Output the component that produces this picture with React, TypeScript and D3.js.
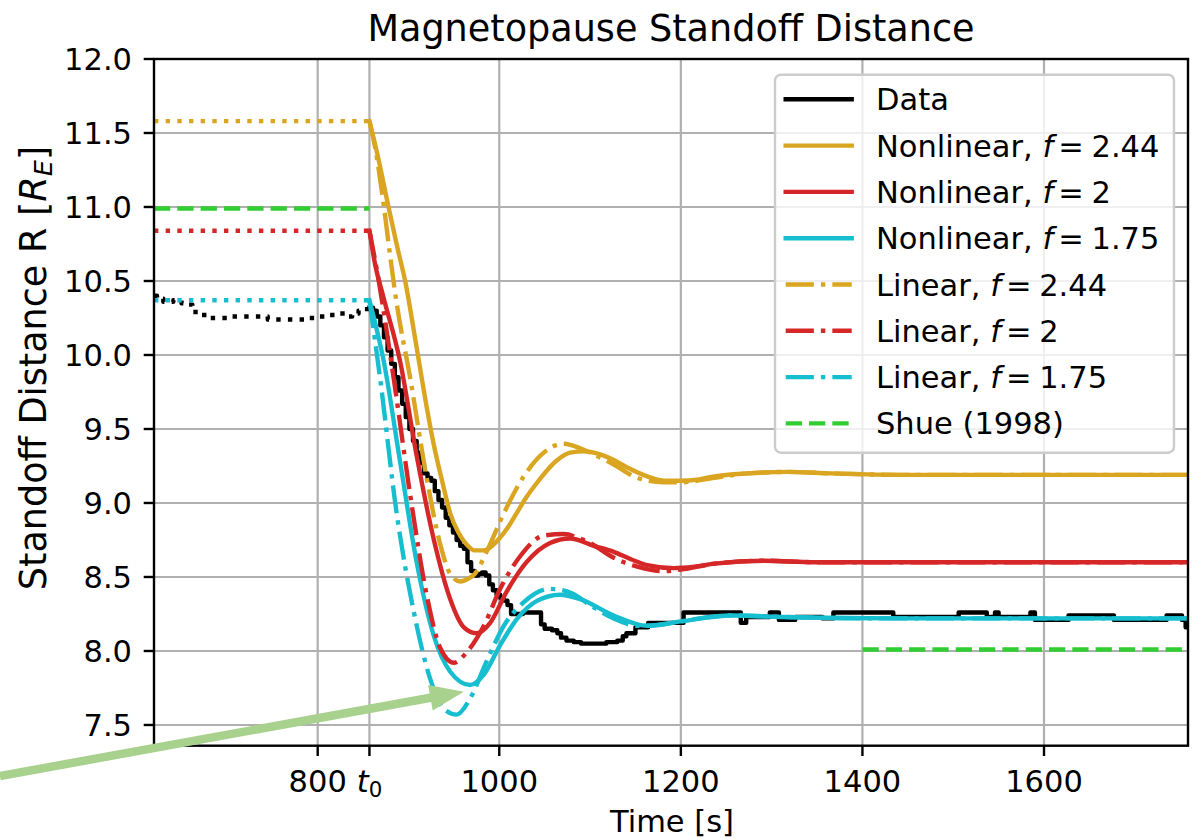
import React from 'react';
import * as d3 from 'd3';

const W = 1194;
const H = 839;
const plot = { left: 154, right: 1188, top: 59, bottom: 745.7 };

const xDomain: [number, number] = [619.7, 1758.6];
const yDomain: [number, number] = [7.36, 12.0];
const T0 = 857;
const xTicks = [800, T0, 1000, 1200, 1400, 1600];
const yTicks = [7.5, 8.0, 8.5, 9.0, 9.5, 10.0, 10.5, 11.0, 11.5, 12.0];

const title = 'Magnetopause Standoff Distance';

// Observed data before t0 (dotted) and after (solid)
const dataBefore: [number, number][] = [
  [620, 10.4], [623, 10.38], [630, 10.36], [641, 10.37], [650, 10.35], [656, 10.34], [662, 10.29],
  [672, 10.27], [682, 10.25], [700, 10.26], [728, 10.26], [745, 10.24], [768, 10.24], [786, 10.25],
  [800, 10.26], [812, 10.27], [822, 10.28], [830, 10.26], [838, 10.28], [845, 10.3], [852, 10.31], [857, 10.32],
];
const dataAfter: [number, number][] = [
  [857, 10.32], [861, 10.3], [865, 10.26], [869, 10.2], [873, 10.12], [877, 10.03], [881, 9.94], [885, 9.85],
  [889, 9.76], [893, 9.67], [897, 9.58], [901, 9.5], [905, 9.42], [909, 9.34], [913, 9.27], [917, 9.2],
  [921, 9.17], [925, 9.15], [929, 9.08], [933, 9.02], [937, 8.97], [941, 8.9], [945, 8.85], [949, 8.8],
  [953, 8.75], [957, 8.71], [961, 8.69], [965, 8.6], [969, 8.54], [973, 8.51], [977, 8.52], [981, 8.53],
  [985, 8.51], [989, 8.45], [993, 8.41], [997, 8.38], [1001, 8.36], [1005, 8.34], [1009, 8.31], [1013, 8.25],
  [1020, 8.25], [1026, 8.26], [1042, 8.26], [1046, 8.18], [1050, 8.15], [1058, 8.14], [1064, 8.12],
  [1068, 8.09], [1074, 8.07], [1082, 8.06], [1090, 8.05], [1118, 8.06], [1130, 8.07], [1136, 8.1],
  [1140, 8.12], [1150, 8.16], [1164, 8.19], [1203, 8.26], [1266, 8.19], [1272, 8.23], [1280, 8.23],
  [1298, 8.26], [1308, 8.21], [1326, 8.23], [1356, 8.22], [1368, 8.26], [1430, 8.26], [1434, 8.23],
  [1506, 8.26], [1537, 8.23], [1546, 8.26], [1550, 8.23], [1585, 8.26], [1590, 8.21], [1627, 8.24],
  [1677, 8.21], [1735, 8.24], [1752, 8.21], [1756, 8.16], [1759, 8.16],
];

// Pre-t0 equilibrium levels of the models
const preGold = 11.58;
const preRed = 10.84;
const preCyan = 10.37;
const shuePre = 10.99;
const shuePost = 8.01;
const shuePostStart = 1400;

const nonlinear244: [number, number][] = [
  [857, 11.58], [866, 11.35], [878, 11.0], [888, 10.72], [896, 10.51], [909, 10.05], [920, 9.65],
  [928, 9.39], [937, 9.15], [946, 8.93], [955, 8.8], [964, 8.72], [973, 8.68], [983, 8.68], [992, 8.71],
  [1000, 8.76], [1010, 8.84], [1020, 8.94], [1030, 9.04], [1042, 9.14], [1054, 9.23], [1064, 9.29],
  [1078, 9.34], [1093, 9.35], [1104, 9.34], [1115, 9.32], [1126, 9.29], [1141, 9.24], [1163, 9.18],
  [1182, 9.15], [1200, 9.15], [1220, 9.16], [1237, 9.18], [1273, 9.2], [1317, 9.21], [1365, 9.2],
  [1442, 9.19], [1550, 9.19], [1759, 9.19],
];
const nonlinear2: [number, number][] = [
  [857, 10.84], [863, 10.62], [872, 10.4], [891, 9.95], [909, 9.32], [928, 8.75], [946, 8.35],
  [961, 8.16], [975, 8.12], [990, 8.19], [1008, 8.4], [1030, 8.6], [1056, 8.73], [1078, 8.76],
  [1104, 8.71], [1126, 8.67], [1145, 8.62], [1163, 8.58], [1192, 8.56], [1215, 8.57], [1237, 8.59],
  [1292, 8.61], [1347, 8.6], [1442, 8.6], [1759, 8.6],
];
const nonlinear175: [number, number][] = [
  [857, 10.37], [873, 9.95], [891, 9.27], [909, 8.6], [928, 8.1], [946, 7.86], [968, 7.77], [983, 7.84],
  [1001, 8.04], [1020, 8.22], [1042, 8.34], [1067, 8.38], [1089, 8.35], [1126, 8.24], [1163, 8.17],
  [1200, 8.2], [1255, 8.24], [1310, 8.23], [1442, 8.22], [1759, 8.22],
];
const linear244: [number, number][] = [
  [857, 11.58], [863, 11.41], [873, 11.0], [880, 10.66], [887, 10.35], [902, 9.84], [920, 9.17],
  [935, 8.72], [946, 8.52], [957, 8.47], [966, 8.49], [973, 8.52], [986, 8.67], [1005, 8.93],
  [1027, 9.18], [1049, 9.34], [1070, 9.4], [1089, 9.37], [1100, 9.34], [1126, 9.26], [1152, 9.17],
  [1181, 9.14], [1200, 9.14], [1237, 9.17], [1273, 9.2], [1317, 9.21], [1365, 9.2], [1442, 9.19], [1759, 9.19],
];
const linear2: [number, number][] = [
  [857, 10.84], [867, 10.51], [884, 9.83], [902, 9.05], [920, 8.38], [935, 8.02], [950, 7.92],
  [964, 7.99], [983, 8.17], [1001, 8.42], [1023, 8.64], [1049, 8.78], [1071, 8.79], [1089, 8.76],
  [1100, 8.73], [1126, 8.63], [1152, 8.57], [1181, 8.54], [1200, 8.55], [1237, 8.59], [1292, 8.61],
  [1347, 8.6], [1759, 8.6],
];
const linear175: [number, number][] = [
  [857, 10.37], [869, 9.83], [887, 8.93], [906, 8.26], [924, 7.81], [939, 7.61], [953, 7.57],
  [968, 7.68], [986, 7.93], [1005, 8.17], [1027, 8.33], [1056, 8.42], [1080, 8.39], [1100, 8.31],
  [1126, 8.22], [1152, 8.17], [1181, 8.18], [1200, 8.2], [1255, 8.24], [1310, 8.23], [1442, 8.22], [1759, 8.22],
];

// Annotation arrow (data coordinates)
const arrowTail: [number, number] = [450, 7.155];
const arrowTip: [number, number] = [961, 7.725];

const GOLD = '#daa520';
const RED = '#d62728';
const CYAN = '#17becf';
const GREEN = '#32cd32';
const ARROW = '#a9d18e';

const LW = 4.4;
const DASHDOT = [6.4, 1.6, 1, 1.6].map((d) => d * LW).join(',');
const DASHED = [3.7, 1.6].map((d) => d * LW).join(',');
const DOTTED = [1, 1.65].map((d) => d * LW).join(',');

const FONT = 'DejaVu Sans, Verdana, sans-serif';
const FS = 30.5;
const FS_BIG = 36.6;

type Entry = { label: string; fval?: string; color: string; dash?: string };
const legendEntries: Entry[] = [
  { label: 'Data', color: '#000000' },
  { label: 'Nonlinear, ', fval: '2.44', color: GOLD },
  { label: 'Nonlinear, ', fval: '2', color: RED },
  { label: 'Nonlinear, ', fval: '1.75', color: CYAN },
  { label: 'Linear, ', fval: '2.44', color: GOLD, dash: DASHDOT },
  { label: 'Linear, ', fval: '2', color: RED, dash: DASHDOT },
  { label: 'Linear, ', fval: '1.75', color: CYAN, dash: DASHDOT },
  { label: 'Shue (1998)', color: GREEN, dash: DASHED },
];

export default function App() {
  const x = d3.scaleLinear().domain(xDomain).range([plot.left, plot.right]);
  const y = d3.scaleLinear().domain(yDomain).range([plot.bottom, plot.top]);

  const smooth = d3
    .line<[number, number]>()
    .x((d) => x(d[0]))
    .y((d) => y(d[1]))
    .curve(d3.curveMonotoneX);
  const step = d3
    .line<[number, number]>()
    .x((d) => x(d[0]))
    .y((d) => y(d[1]))
    .curve(d3.curveStepAfter);
  const straight = d3
    .line<[number, number]>()
    .x((d) => x(d[0]))
    .y((d) => y(d[1]));

  const flat = (a: number, b: number, v: number): [number, number][] => [
    [a, v],
    [b, v],
  ];

  // arrow geometry
  const tx = x(arrowTip[0]);
  const ty = y(arrowTip[1]);
  const sx = x(arrowTail[0]);
  const sy = y(arrowTail[1]);
  const ang = Math.atan2(ty - sy, tx - sx);
  const headL = 34;
  const headW = 26;
  const shaftW = 8.5;
  const ux = Math.cos(ang);
  const uy = Math.sin(ang);
  const px = -uy;
  const py = ux;
  const bx = tx - ux * headL;
  const by = ty - uy * headL;
  const arrowPts = [
    [sx + (px * shaftW) / 2, sy + (py * shaftW) / 2],
    [bx + (px * shaftW) / 2, by + (py * shaftW) / 2],
    [bx + (px * headW) / 2, by + (py * headW) / 2],
    [tx, ty],
    [bx - (px * headW) / 2, by - (py * headW) / 2],
    [bx - (px * shaftW) / 2, by - (py * shaftW) / 2],
    [sx - (px * shaftW) / 2, sy - (py * shaftW) / 2],
  ]
    .map((p) => p.join(','))
    .join(' ');

  const legend = { x: 775, y: 74.7, w: 399, h: 378, rowY0: 99.3, rowDy: 46.3, lineX0: 785.7, lineX1: 851.7, textX: 876 };

  const lineProps = (color: string, dash?: string) => ({
    fill: 'none',
    stroke: color,
    strokeWidth: LW,
    strokeDasharray: dash,
    strokeLinecap: (dash ? 'butt' : 'square') as any,
    strokeLinejoin: 'round' as any,
  });

  return (
    <svg
      width={W}
      height={H}
      viewBox={`0 0 ${W} ${H}`}
      style={{ position: 'absolute', left: 0, top: 0, background: '#fff' }}
      fontFamily={FONT}
    >
      <defs>
        <clipPath id="plotclip">
          <rect x={plot.left} y={plot.top} width={plot.right - plot.left} height={plot.bottom - plot.top} />
        </clipPath>
      </defs>
      <rect x={0} y={0} width={W} height={H} fill="#fff" />

      {/* grid */}
      <g stroke="#b0b0b0" strokeWidth={2.2}>
        {xTicks.map((t) => (
          <line key={'gx' + t} x1={x(t)} x2={x(t)} y1={plot.top} y2={plot.bottom} />
        ))}
        {yTicks.map((t) => (
          <line key={'gy' + t} x1={plot.left} x2={plot.right} y1={y(t)} y2={y(t)} />
        ))}
      </g>

      <g clipPath="url(#plotclip)">
        {/* data */}
        <path d={step(dataBefore) || ''} {...lineProps('#000', DOTTED)} />
        <path d={step(dataAfter) || ''} {...lineProps('#000')} />
        {/* pre-t0 model levels */}
        <path d={straight(flat(xDomain[0], T0, preGold)) || ''} {...lineProps(GOLD, DOTTED)} />
        <path d={straight(flat(xDomain[0], T0, preRed)) || ''} {...lineProps(RED, DOTTED)} />
        <path d={straight(flat(xDomain[0], T0, preCyan)) || ''} {...lineProps(CYAN, DOTTED)} />
        {/* nonlinear */}
        <path d={smooth(nonlinear244) || ''} {...lineProps(GOLD)} />
        <path d={smooth(nonlinear2) || ''} {...lineProps(RED)} />
        <path d={smooth(nonlinear175) || ''} {...lineProps(CYAN)} />
        {/* linear */}
        <path d={smooth(linear244) || ''} {...lineProps(GOLD, DASHDOT)} />
        <path d={smooth(linear2) || ''} {...lineProps(RED, DASHDOT)} />
        <path d={smooth(linear175) || ''} {...lineProps(CYAN, DASHDOT)} />
        {/* Shue */}
        <path d={straight(flat(xDomain[0], T0, shuePre)) || ''} {...lineProps(GREEN, DASHED)} />
        <path d={straight(flat(shuePostStart, xDomain[1] + 5, shuePost)) || ''} {...lineProps(GREEN, DASHED)} />
      </g>

      {/* spines */}
      <rect
        x={plot.left}
        y={plot.top}
        width={plot.right - plot.left}
        height={plot.bottom - plot.top}
        fill="none"
        stroke="#000"
        strokeWidth={2.4}
      />

      {/* x ticks */}
      <g>
        {xTicks.map((t) => (
          <g key={'xt' + t}>
            <line x1={x(t)} x2={x(t)} y1={plot.bottom} y2={plot.bottom + 10.3} stroke="#000" strokeWidth={2.4} />
            {t === T0 ? (
              <text x={x(t)} y={791.5} textAnchor="middle" fontSize={FS} fill="#000">
                <tspan fontStyle="italic">t</tspan>
                <tspan fontSize={FS * 0.7} dy={5}>0</tspan>
              </text>
            ) : (
              <text x={x(t)} y={791.5} textAnchor="middle" fontSize={FS} fill="#000">
                {t}
              </text>
            )}
          </g>
        ))}
      </g>
      {/* y ticks */}
      <g>
        {yTicks.map((t) => (
          <g key={'yt' + t}>
            <line x1={plot.left - 10.3} x2={plot.left} y1={y(t)} y2={y(t)} stroke="#000" strokeWidth={2.4} />
            <text x={132} y={y(t) + 11} textAnchor="end" fontSize={FS} fill="#000">
              {t.toFixed(1)}
            </text>
          </g>
        ))}
      </g>

      {/* title & labels */}
      <text x={(plot.left + plot.right) / 2} y={41} textAnchor="middle" fontSize={FS_BIG} fill="#000">
        {title}
      </text>
      <text x={672} y={832} textAnchor="middle" fontSize={FS} fill="#000">
        Time [s]
      </text>
      <text transform={`translate(46, 368) rotate(-90)`} textAnchor="middle" fontSize={FS_BIG} fill="#000">
        Standoff Distance R [<tspan fontStyle="italic">R</tspan>
        <tspan fontStyle="italic" fontSize={FS_BIG * 0.7} dy={6}>E</tspan>
        <tspan dy={-6}>]</tspan>
      </text>

      {/* legend */}
      <g>
        <rect
          x={legend.x}
          y={legend.y}
          width={legend.w}
          height={legend.h}
          rx={6}
          ry={6}
          fill="#fff"
          fillOpacity={0.8}
          stroke="#cccccc"
          strokeWidth={2.4}
        />
        {legendEntries.map((e, i) => {
          const cy = legend.rowY0 + i * legend.rowDy;
          return (
            <g key={'lg' + i}>
              <line
                x1={legend.lineX0}
                x2={legend.lineX1}
                y1={cy}
                y2={cy}
                stroke={e.color}
                strokeWidth={LW}
                strokeDasharray={e.dash}
                strokeLinecap={e.dash ? 'butt' : 'square'}
              />
              <text x={legend.textX} y={cy + 11} fontSize={FS} fill="#000">
                {e.label}
                {e.fval !== undefined && (
                  <>
                    <tspan fontStyle="italic">f</tspan>
                    <tspan>{'\u2006=\u2005' + e.fval}</tspan>
                  </>
                )}
              </text>
            </g>
          );
        })}
      </g>

      {/* annotation arrow */}
      <polygon points={arrowPts} fill={ARROW} stroke="none" />
    </svg>
  );
}
